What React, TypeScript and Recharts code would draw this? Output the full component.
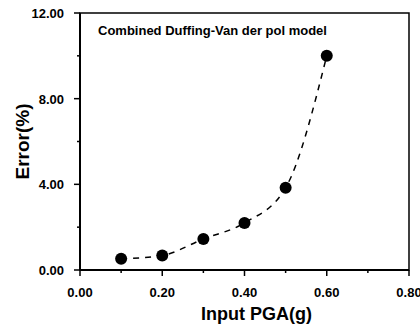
import React from "react"
import {
  ComposedChart,
  Line,
  XAxis,
  YAxis,
  ReferenceArea,
  Label,
} from "recharts"

// input PGA (g) and the resulting error (%)
const pgaValues = [0.1, 0.2, 0.3, 0.4, 0.5, 0.6]
const errorValues = [0.52, 0.68, 1.45, 2.2, 3.84, 10.0]

const xTicks = [0, 0.1, 0.2, 0.3, 0.4, 0.5, 0.6, 0.7, 0.8]
const yTicks = [0, 2, 4, 6, 8, 10, 12]

const title = "Combined Duffing-Van der pol model"

const data = pgaValues.map((pga, i) => ({ pga, error: errorValues[i] }))

const font = "'Liberation Sans', Arial, sans-serif"

const XTick = ({ x, y, payload }: any) => {
  const major = Math.round(payload.value * 10) % 2 === 0
  return (
    <g>
      <line x1={x} x2={x} y1={y} y2={y + (major ? 6 : 3)} stroke="#000" strokeWidth={1.5} />
      {major && (
        <text x={x} y={y + 27} textAnchor="middle" fontSize={13} fontWeight="bold" fontFamily={font} fill="#000">
          {payload.value.toFixed(2)}
        </text>
      )}
    </g>
  )
}

const YTick = ({ x, y, payload }: any) => {
  const major = payload.value % 4 === 0
  return (
    <g>
      <line x1={x} x2={x - (major ? 6 : 3)} y1={y} y2={y} stroke="#000" strokeWidth={1.5} />
      {major && (
        <text x={x - 16} y={y + 5} textAnchor="end" fontSize={13} fontWeight="bold" fontFamily={font} fill="#000">
          {payload.value.toFixed(2)}
        </text>
      )}
    </g>
  )
}

export default function App() {
  return (
    <div style={{ position: "absolute", left: 0, top: 0, width: 420, height: 333, background: "#fff" }}>
      <ComposedChart
        width={420}
        height={333}
        data={data}
        margin={{ top: 13, right: 11, left: 0, bottom: 0 }}
      >
        <XAxis
          dataKey="pga"
          type="number"
          domain={[0, 0.8]}
          ticks={xTicks}
          interval={0}
          height={63}
          tickSize={0}
          tickMargin={0}
          tick={<XTick />}
          axisLine={{ stroke: "#000", strokeWidth: 2 }}
        >
          <Label
            value="Input PGA(g)"
            position="center"
            dx={12}
            dy={12}
            fontSize={18}
            fontWeight="bold"
            fontFamily={font}
            fill="#000"
          />
        </XAxis>
        <YAxis
          type="number"
          domain={[0, 12]}
          ticks={yTicks}
          interval={0}
          width={80}
          tickSize={0}
          tickMargin={0}
          tick={<YTick />}
          axisLine={{ stroke: "#000", strokeWidth: 2 }}
        >
          <Label
            value="Error(%)"
            position="center"
            angle={-90}
            dx={-18}
            fontSize={19}
            fontWeight="bold"
            fontFamily={font}
            fill="#000"
          />
        </YAxis>
        <ReferenceArea
          x1={0}
          x2={0.8}
          y1={0}
          y2={12}
          fill="none"
          stroke="#000"
          strokeWidth={1.5}
          ifOverflow="visible"
        />
        <Line
          type="monotone"
          dataKey="error"
          stroke="#000"
          strokeWidth={1.5}
          strokeDasharray="6 6"
          dot={{ r: 6, fill: "#000", stroke: "#000", strokeWidth: 0 }}
          isAnimationActive={false}
        />
      </ComposedChart>
      <div
        style={{
          position: "absolute",
          left: 98,
          top: 23,
          fontFamily: font,
          fontSize: 13,
          fontWeight: "bold",
          color: "#000",
          whiteSpace: "nowrap",
        }}
      >
        {title}
      </div>
    </div>
  )
}
